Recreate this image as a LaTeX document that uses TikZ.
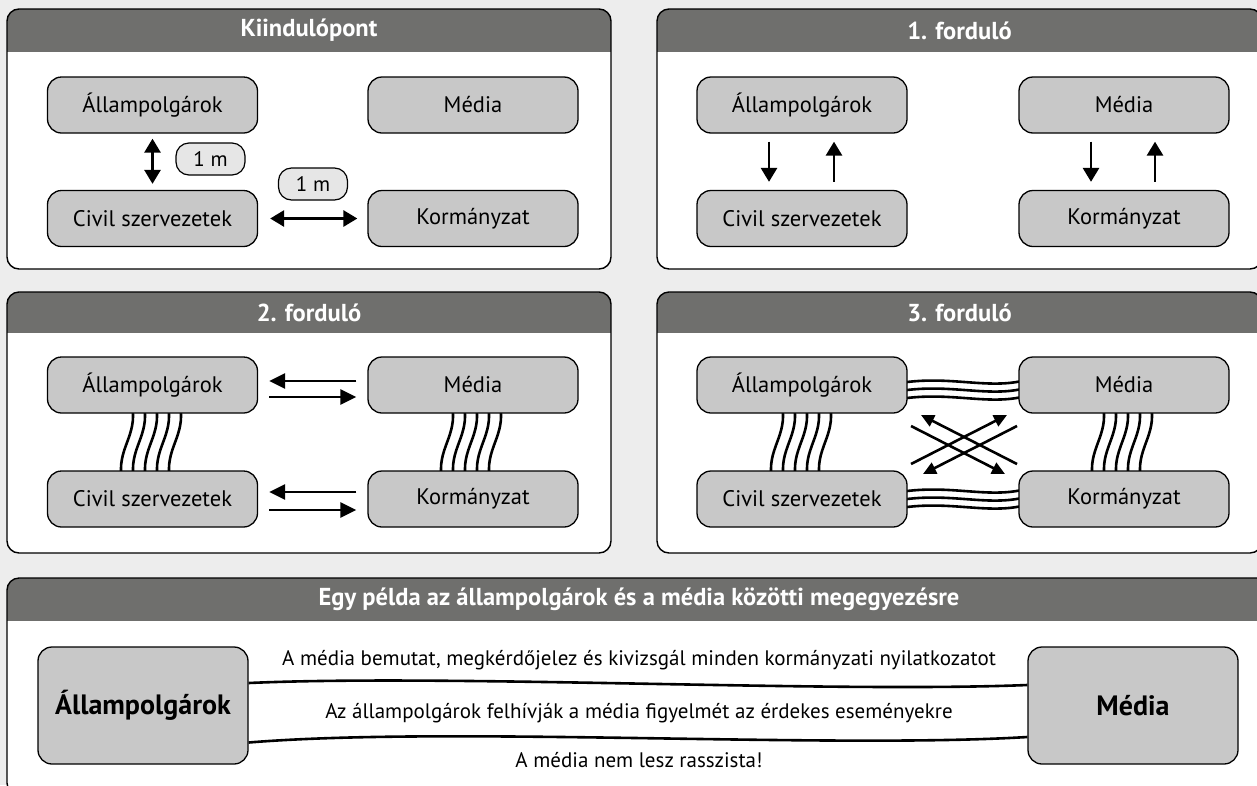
\documentclass[tikz,border=0pt]{standalone}
\usepackage{fontspec}
\setmainfont{PT Sans}
\usetikzlibrary{arrows.meta}
\definecolor{bgcol}{HTML}{EDEDED}
\definecolor{hdrcol}{HTML}{6F6F6D}
\definecolor{boxcol}{HTML}{C8C8C8}
\definecolor{pillcol}{HTML}{E6E6E6}
\newcommand\mypanel[7]{%
  \begin{scope}
    \clip[rounded corners=12pt] (#1,#2) rectangle (#3,#4);
    \fill[white] (#1,#2) rectangle (#3,#4);
    \fill[hdrcol] (#1,#2) rectangle (#3,#5);
  \end{scope}
  \draw[line width=1.4pt, rounded corners=12pt] (#1,#2) rectangle (#3,#4);
  \node[hdrtext] (#7) at ({(#1+#3)/2},{(#2+#5)/2}) {#6};
}
% vertical wavy bundle: top x, top y, bottom y
\newcommand\vwaves[3]{%
  \foreach \i in {0,...,4}{%
    \pgfmathsetmacro\xx{#1+12*\i}
    \draw[wave] (\xx,#2) .. controls (\xx+6,{#2+0.42*(#3-#2)}) and (\xx-16,{#3-0.42*(#3-#2)}) .. (\xx-10,#3);
  }%
}
\newcommand\hwaves[3]{% left x, right x, top y
  \foreach \i in {0,1,2}{%
    \pgfmathsetmacro\yy{#3+8*\i}
    \draw[wave] (#1,\yy+1) .. controls ({#1+0.4*(#2-#1)},\yy-7) and ({#1+0.7*(#2-#1)},\yy+8) .. (#2,\yy-2);
  }%
}
\tikzset{
  hdrtext/.style={text=white, font=\bfseries\fontsize{24.5}{28}\selectfont, inner sep=0pt},
  box/.style={draw, line width=1.3pt, fill=boxcol, rounded corners=14pt, minimum width=210pt, minimum height=56pt, inner sep=0pt, font=\fontsize{22.5}{26}\selectfont},
  bigbox/.style={box, minimum height=117pt, font=\bfseries\fontsize{28}{32}\selectfont},
  pill/.style={draw, line width=1.2pt, fill=pillcol, rounded corners=13pt, minimum width=69pt, minimum height=32pt, inner sep=0pt, font=\fontsize{21}{24}\selectfont},
  wave/.style={line width=2.6pt},
  arr/.style={line width=2.8pt, -{Triangle[length=14pt,width=16pt]}},
  darr/.style={line width=2.8pt, {Triangle[length=14pt,width=16pt]}-{Triangle[length=14pt,width=16pt]}},
  harr/.style={line width=2.8pt, -{Triangle[length=16pt,width=15pt]}},
  xarr/.style={line width=2.6pt, -{Triangle[length=13pt,width=12pt]}},
  conn/.style={line width=2.6pt},
  lbl/.style={font=\fontsize{21}{24}\selectfont, inner sep=0pt},
}
\begin{document}
\begin{tikzpicture}[x=1pt,y=-1pt]
\useasboundingbox (0,0) rectangle (1257,785);
\clip (0,0) rectangle (1257,785);
\fill[bgcol] (0,0) rectangle (1257,785);

% ---------- Panel 1 ----------
\mypanel{7}{9}{611}{269}{52}{Kiindulópont}{t1}
\node[box] (a1) at (152.5,105) {Állampolgárok};
\node[box] (m1) at (473,105) {Média};
\node[box] (c1) at (152.5,218.5) {Civil szervezetek};
\node[box] (k1) at (473,218.5) {Kormányzat};
\node[pill] (p1) at (210.5,159) {1 m};
\node[pill] (p2) at (313,184) {1 m};
\draw[darr, shorten <=5pt, shorten >=6pt] (a1.south) -- (c1.north);
\draw[darr, shorten <=12pt, shorten >=10pt] (c1.east) -- (k1.west);

% ---------- Panel 2 ----------
\mypanel{657}{9}{1262}{269}{52}{1. forduló}{t2}
\node[box] (a2) at (802,105) {Állampolgárok};
\node[box] (m2) at (1124,105) {Média};
\node[box] (c2) at (802,218.5) {Civil szervezetek};
\node[box] (k2) at (1124,218.5) {Kormányzat};
\draw[arr, shorten <=8pt, shorten >=8pt] ([xshift=-33pt]a2.south) -- ([xshift=-33pt]c2.north);
\draw[arr, shorten <=8pt, shorten >=8pt] ([xshift=32pt]c2.north) -- ([xshift=32pt]a2.south);
\draw[arr, shorten <=8pt, shorten >=8pt] ([xshift=-33pt]m2.south) -- ([xshift=-33pt]k2.north);
\draw[arr, shorten <=8pt, shorten >=8pt] ([xshift=31pt]k2.north) -- ([xshift=31pt]m2.south);

% ---------- Panel 3 ----------
\mypanel{7}{292}{611}{553}{333}{2. forduló}{t3}
\vwaves{132}{405}{480}
\vwaves{452}{405}{480}
\node[box] (a3) at (152.5,385) {Állampolgárok};
\node[box] (m3) at (473,385) {Média};
\node[box] (c3) at (152.5,499) {Civil szervezetek};
\node[box] (k3) at (473,499) {Kormányzat};
\draw[harr, shorten <=11pt, shorten >=11pt] ([yshift=4pt]m3.west) -- ([yshift=4pt]a3.east);
\draw[harr, shorten <=11pt, shorten >=11pt] ([yshift=-12pt]a3.east) -- ([yshift=-12pt]m3.west);
\draw[harr, shorten <=11pt, shorten >=11pt] ([yshift=7pt]k3.west) -- ([yshift=7pt]c3.east);
\draw[harr, shorten <=11pt, shorten >=11pt] ([yshift=-11pt]c3.east) -- ([yshift=-11pt]k3.west);

% ---------- Panel 4 ----------
\mypanel{657}{292}{1262}{553}{333}{3. forduló}{t4}
\vwaves{782}{405}{480}
\vwaves{1103}{405}{480}
\hwaves{900}{1026}{382}
\hwaves{900}{1026}{491}
\node[box] (a4) at (802,385) {Állampolgárok};
\node[box] (m4) at (1124,385) {Média};
\node[box] (c4) at (802,499) {Civil szervezetek};
\node[box] (k4) at (1124,499) {Kormányzat};
\coordinate (xa1) at (911,426);
\coordinate (xa2) at (1005,474);
\coordinate (xb1) at (1017,426);
\coordinate (xb2) at (923,474);
\coordinate (xc1) at (911,464);
\coordinate (xc2) at (1007,415);
\coordinate (xd1) at (1017,464);
\coordinate (xd2) at (921,415);
\draw[xarr] (xa1) -- (xa2);
\draw[xarr] (xb1) -- (xb2);
\draw[xarr] (xc1) -- (xc2);
\draw[xarr] (xd1) -- (xd2);

% ---------- Panel 5 ----------
\mypanel{7}{578}{1271}{795}{621}{Egy példa az állampolgárok és a média közötti megegyezésre}{t5}
\node[bigbox] (a5) at (143,705.5) {Állampolgárok};
\node[bigbox] (m5) at (1133,705.5) {Média};
\draw[conn] ([yshift=22.5pt]a5.east) .. controls (450,674) and (830,693) .. ([yshift=20.5pt]m5.west);
\draw[conn] ([yshift=-37pt]a5.east) .. controls (450,726) and (830,749) .. ([yshift=-31.5pt]m5.west);
\node[lbl] (l1) at (639,660) {A média bemutat, megkérdőjelez és kivizsgál minden kormányzati nyilatkozatot};
\node[lbl] (l2) at (639,713) {Az állampolgárok felhívják a média figyelmét az érdekes eseményekre};
\node[lbl] (l3) at (639,760) {A média nem lesz rasszista!};
\end{tikzpicture}
\end{document}
